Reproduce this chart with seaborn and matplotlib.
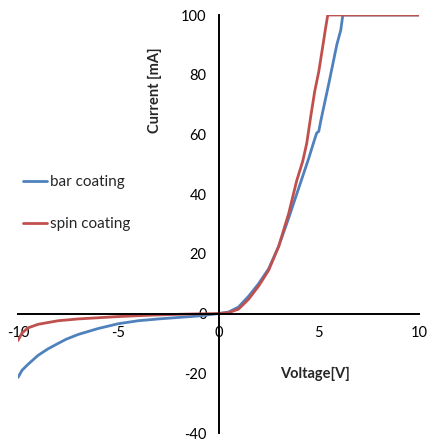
import matplotlib
matplotlib.use("Agg")
import matplotlib.pyplot as plt
import seaborn as sns
import pandas as pd

# Data
bar_v = [-10, -9.8, -9.5, -9, -8.5, -8, -7.6, -7, -6, -5, -4, -3, -2, -1, -0.5, 0,
         0.5, 1.0, 1.5, 2.0, 2.5, 3.0, 3.5, 4.0, 4.5, 4.8, 4.9, 5.0, 5.1, 5.5, 5.9, 6.1, 6.2, 10]
bar_i = [-21.4, -19.0, -17.0, -14.0, -11.8, -10.0, -8.6, -7.0, -5.0, -3.4, -2.4, -1.8, -1.3, -0.8, -0.4, 0,
         0.5, 2.2, 5.8, 10.0, 15.0, 22.5, 32.0, 42.0, 52.0, 58.5, 60.5, 61.0, 64.5, 77.0, 90.0, 95.0, 100, 100]

spin_v = [-10, -9.8, -9.5, -9, -8, -7, -6, -5, -4, -3, -2, -1, 0,
          0.5, 1.0, 1.5, 2.0, 2.5, 3.0, 3.5, 3.9, 4.2, 4.4, 4.6, 4.8, 5.0, 5.2, 5.35, 5.45, 10]
spin_i = [-9.0, -6.5, -4.8, -3.6, -2.4, -1.8, -1.4, -1.0, -0.7, -0.45, -0.25, -0.1, 0,
          0.3, 1.5, 4.8, 9.2, 14.5, 22.5, 33.5, 44.5, 51.0, 57.0, 66.0, 74.5, 81.0, 89.5, 96.0, 100, 100]

series_names = ["bar coating", "spin coating"]
x_ticks = [-10, -5, 0, 5, 10]
y_ticks = [-40, -20, 0, 20, 40, 60, 80, 100]

sns.set_style("white")
plt.rcParams['font.family'] = ['Lato', 'DejaVu Sans']
plt.rcParams['axes.unicode_minus'] = False

fig = plt.figure(figsize=(4.28, 4.40), dpi=100)
ax = fig.add_axes([18/428, 1 - 433/440, 401/428, 418/440])

blue = "#4F81BD"
red = "#C0504D"

df_bar = pd.DataFrame({"V": bar_v, "I": bar_i})
df_spin = pd.DataFrame({"V": spin_v, "I": spin_i})
sns.lineplot(data=df_bar, x="V", y="I", color=blue, lw=2.0, ax=ax, label=series_names[0], sort=False)
sns.lineplot(data=df_spin, x="V", y="I", color=red, lw=2.0, ax=ax, label=series_names[1], sort=False)

ax.set_xlim(-10, 10)
ax.set_ylim(-40, 100)
ax.set_xticks(x_ticks)
ax.set_yticks(y_ticks)
ax.set_xlabel("")
ax.set_ylabel("")

for s in ["top", "right"]:
    ax.spines[s].set_visible(False)
ax.spines["left"].set_position(("data", 0))
ax.spines["bottom"].set_position(("data", 0))
for s in ["left", "bottom"]:
    ax.spines[s].set_linewidth(1.4)
    ax.spines[s].set_color("black")

ax.tick_params(axis="x", direction="in", length=4, width=1.4, pad=9, labelsize=10.5, colors="black")
ax.tick_params(axis="y", direction="inout", length=7, width=1.4, pad=5, labelsize=10.5, colors="black")

fig.text(155/428, 1 - 90/440, "Current [mA]", rotation=90, ha="center", va="center",
         fontsize=10.5, fontweight="bold")
fig.text(315/428, 1 - 374/440, "Voltage[V]", ha="center", va="center",
         fontsize=10.5, fontweight="bold")

ax.legend(loc="upper left", bbox_to_anchor=(23/428, 1 - 175/440), bbox_transform=fig.transFigure,
          frameon=False, fontsize=11, handlelength=1.6, handletextpad=0.15,
          labelspacing=1.85, borderpad=0, borderaxespad=0)

fig.savefig("out.png", dpi=100)
